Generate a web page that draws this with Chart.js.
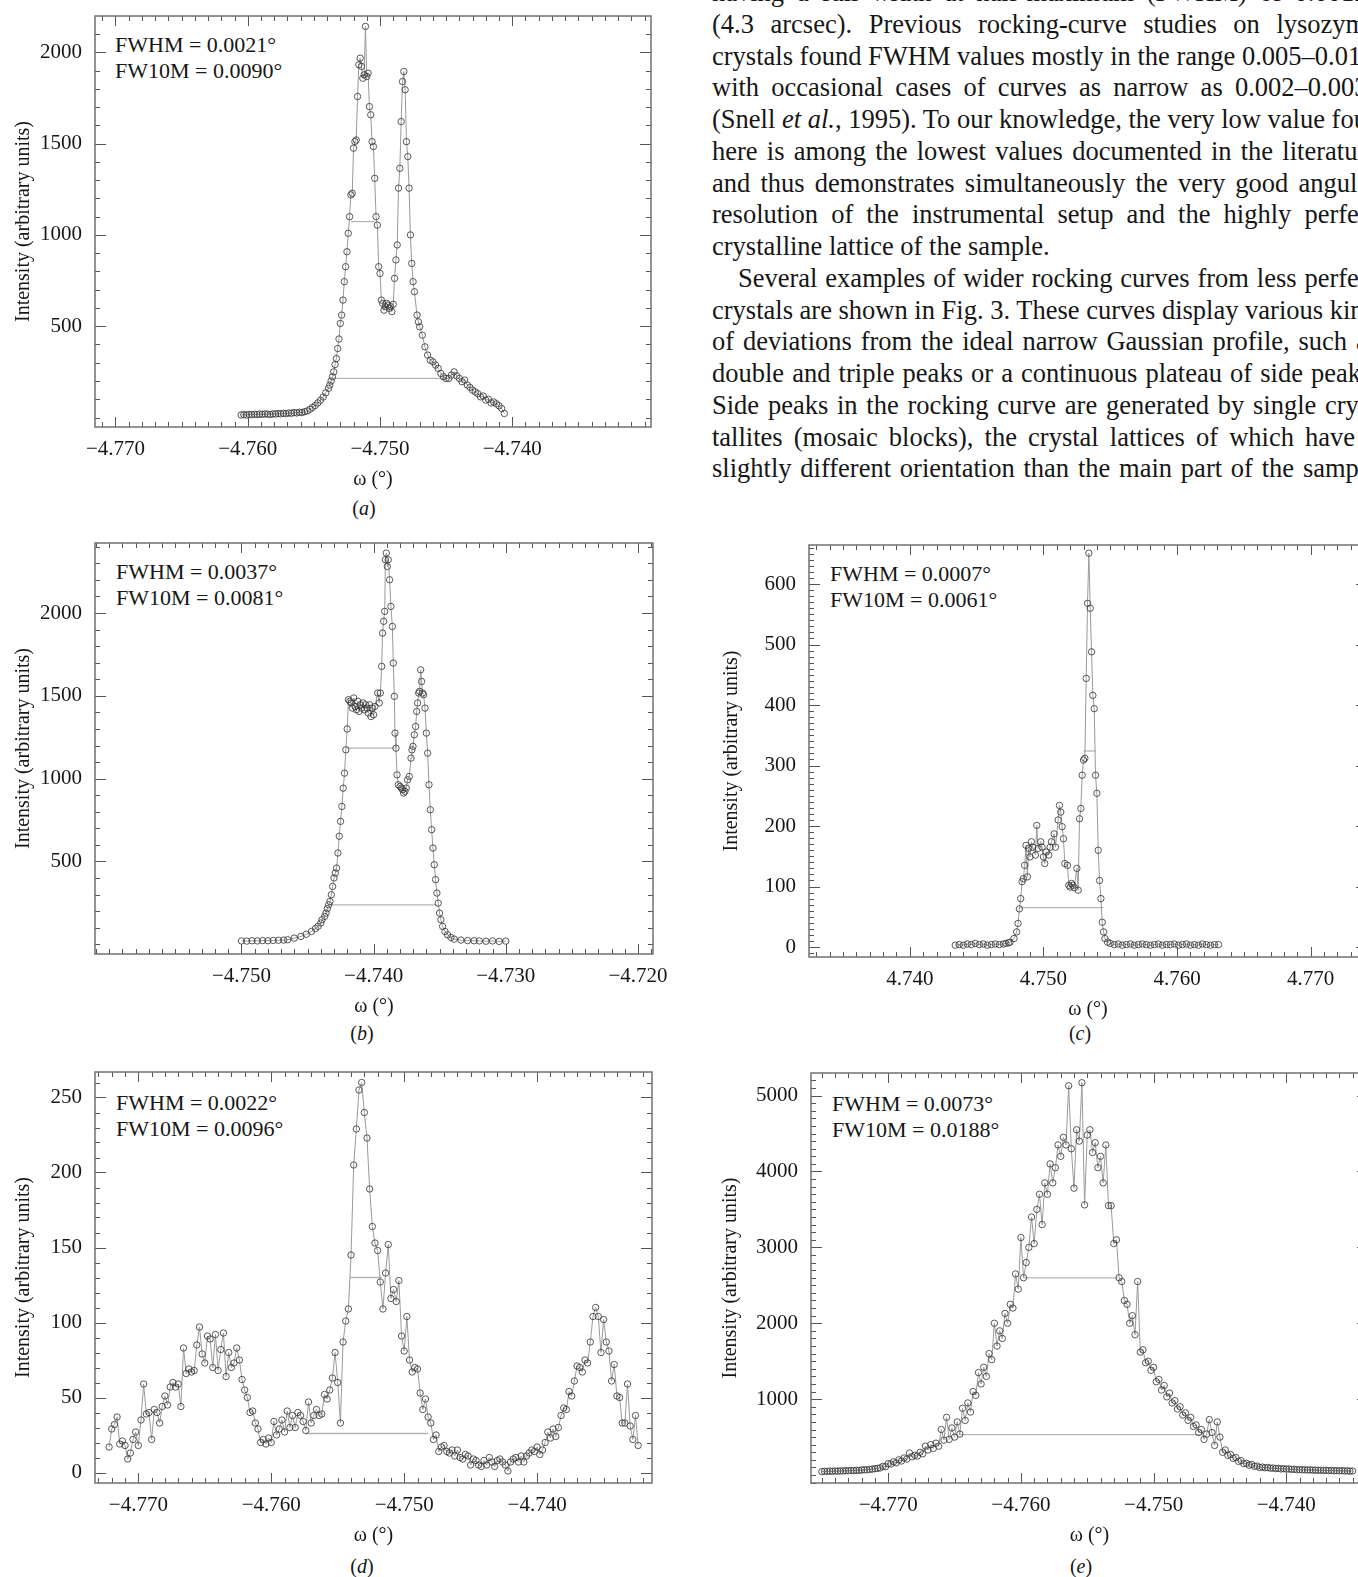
<!DOCTYPE html>
<html lang="en">
<head>
<meta charset="UTF-8">
<title>Rocking curves</title>
<script src="https://cdn.jsdelivr.net/npm/chart.js"></script>
<style>
  html, body { margin: 0; padding: 0; background: #fff; overflow: hidden; }
  body { position: relative; width: 1358px; height: 1577px; font-family: "Liberation Serif", "Times New Roman", serif; color: #161616; }
  canvas { position: absolute; }
  .note { position: absolute; font-size: 22px; line-height: 26px; white-space: nowrap; }
  .cap { position: absolute; font-size: 20px; transform: translate(-50%, -50%); white-space: nowrap; }
  .col { position: absolute; left: 712px; top: -23px; width: 666px; font-size: 26.5px; line-height: 31.75px; }
  .col div { white-space: nowrap; text-align: justify; text-align-last: justify; }
  .col div.end { text-align: left; text-align-last: left; }
  .col div.ind { text-indent: 26px; }
</style>
</head>
<body>

<div class="col">
  <div>having a full width at half-maximum (FWHM) of 0.0012°</div>
  <div>(4.3 arcsec). Previous rocking-curve studies on lysozyme</div>
  <div>crystals found FWHM values mostly in the range 0.005–0.012°</div>
  <div>with occasional cases of curves as narrow as 0.002–0.003°</div>
  <div>(Snell <i>et al.</i>, 1995). To our knowledge, the very low value found</div>
  <div>here is among the lowest values documented in the literature</div>
  <div>and thus demonstrates simultaneously the very good angular</div>
  <div>resolution of the instrumental setup and the highly perfect</div>
  <div class="end">crystalline lattice of the sample.</div>
  <div class="ind">Several examples of wider rocking curves from less perfect</div>
  <div>crystals are shown in Fig. 3. These curves display various kinds</div>
  <div>of deviations from the ideal narrow Gaussian profile, such as</div>
  <div>double and triple peaks or a continuous plateau of side peaks.</div>
  <div>Side peaks in the rocking curve are generated by single crys-</div>
  <div>tallites (mosaic blocks), the crystal lattices of which have a</div>
  <div>slightly different orientation than the main part of the sample</div>
</div>

<div class="note" style="left:115px; top:32px;">FWHM = 0.0021°<br>FW10M = 0.0090°</div>
<div class="note" style="left:116px; top:559px;">FWHM = 0.0037°<br>FW10M = 0.0081°</div>
<div class="note" style="left:830px; top:561px;">FWHM = 0.0007°<br>FW10M = 0.0061°</div>
<div class="note" style="left:116px; top:1090px;">FWHM = 0.0022°<br>FW10M = 0.0096°</div>
<div class="note" style="left:832px; top:1091px;">FWHM = 0.0073°<br>FW10M = 0.0188°</div>

<div class="cap" style="left:364px; top:508px;">(<i>a</i>)</div>
<div class="cap" style="left:362px; top:1033px;">(<i>b</i>)</div>
<div class="cap" style="left:1080px; top:1033px;">(<i>c</i>)</div>
<div class="cap" style="left:362px; top:1566px;">(<i>d</i>)</div>
<div class="cap" style="left:1081px; top:1566px;">(<i>e</i>)</div>

<script>
// ---- panel (a) ----
const omegaA = [
  -4.7605,-4.7603,-4.7601,-4.7599,-4.7597,-4.7595,-4.7593,-4.7591,-4.7589,-4.7587,
  -4.7585,-4.7583,-4.7581,-4.7579,-4.7577,-4.7575,-4.7573,-4.7571,-4.7569,-4.7567,
  -4.7565,-4.7563,-4.7561,-4.7559,-4.7557,-4.7555,-4.7553,-4.7551,-4.7549,-4.7547,
  -4.7545,-4.7543,-4.7541,-4.7539,-4.7538,-4.7537,-4.7536,-4.7535,-4.7534,-4.7533,
  -4.7532,-4.7531,-4.7530,-4.7529,-4.7528,-4.7527,-4.7526,-4.7525,-4.7524,-4.7523,
  -4.7522,-4.7521,-4.7520,-4.7519,-4.7518,-4.7517,-4.7516,-4.7515,-4.7514,-4.7513,
  -4.7512,-4.7511,-4.7510,-4.7509,-4.7508,-4.7507,-4.7506,-4.7505,-4.7504,-4.7503,
  -4.7502,-4.7501,-4.7500,-4.7499,-4.7498,-4.7497,-4.7496,-4.7495,-4.7494,-4.7493,
  -4.7492,-4.7491,-4.7490,-4.7489,-4.7488,-4.7487,-4.7486,-4.7485,-4.7484,-4.7483,
  -4.7482,-4.7481,-4.7480,-4.7479,-4.7478,-4.7477,-4.7476,-4.7475,-4.7474,-4.7472,
  -4.7471,-4.7470,-4.7468,-4.7466,-4.7464,-4.7462,-4.7460,-4.7458,-4.7456,-4.7454,
  -4.7452,-4.7450,-4.7448,-4.7446,-4.7444,-4.7442,-4.7440,-4.7438,-4.7436,-4.7434,
  -4.7432,-4.7430,-4.7428,-4.7426,-4.7424,-4.7422,-4.7420,-4.7418,-4.7416,-4.7414,
  -4.7412,-4.7410,-4.7408,-4.7406
];
const intensityA = [
  14,16,13,17,15,18,16,19,17,20,
  18,16,20,19,22,20,23,21,25,23,
  27,25,29,27,32,36,45,55,66,80,
  95,112,135,160,177,200,223,250,290,323,
  378,430,515,561,643,744,826,908,1009,1100,
  1219,1228,1475,1511,1520,1758,1932,1968,1923,1858,
  1877,2142,1868,1886,1703,1658,1511,1484,1310,1100,
  1054,826,789,643,625,588,607,625,616,598,
  607,580,620,762,863,945,1256,1365,1621,1840,
  1895,1795,1511,1429,1256,1000,844,744,689,561,
  524,497,451,387,342,314,305,287,269,241,
  223,214,214,232,250,228,214,196,205,178,
  165,150,140,130,113,118,95,100,80,85,
  75,64,49,22
];
const levelsA = [[-4.7522, -4.7504, 1073], [-4.7535, -4.7450, 214]];
const xTicksA = [-4.770, -4.760, -4.750, -4.740];
const yTicksA = [500, 1000, 1500, 2000];

// ---- panel (b) ----
const omegaB = [
  -4.7500,-4.7496,-4.7492,-4.7488,-4.7484,-4.7480,-4.7476,-4.7472,-4.7468,-4.7465,
  -4.7460,-4.7455,-4.7451,-4.7447,-4.7444,-4.7442,-4.7440,-4.7439,-4.7437,-4.7436,
  -4.7435,-4.7434,-4.7433,-4.7432,-4.7431,-4.7430,-4.7429,-4.7428,-4.7427,-4.7426,
  -4.7425,-4.7424,-4.7423,-4.7422,-4.7421,-4.7420,-4.7419,-4.7418,-4.7417,-4.7416,
  -4.7415,-4.7414,-4.7413,-4.7412,-4.7411,-4.7410,-4.7409,-4.7408,-4.7407,-4.7406,
  -4.7405,-4.7404,-4.7403,-4.7402,-4.7401,-4.7400,-4.7399,-4.73969,-4.73957,-4.73949,
  -4.73939,-4.73932,-4.73924,-4.73916,-4.73911,-4.73904,-4.73896,-4.73889,-4.73879,-4.73869,
  -4.73858,-4.73851,-4.73843,-4.73838,-4.73831,-4.73823,-4.73813,-4.73800,-4.73790,-4.73780,
  -4.73773,-4.73763,-4.73753,-4.73743,-4.73730,-4.73717,-4.73710,-4.73702,-4.73692,-4.73682,
  -4.73674,-4.73667,-4.73659,-4.73652,-4.73644,-4.73637,-4.73629,-4.73622,-4.73611,-4.73601,
  -4.73591,-4.73581,-4.73571,-4.73561,-4.73551,-4.73541,-4.73531,-4.73521,-4.73511,-4.73501,
  -4.73491,-4.73478,-4.73460,-4.73440,-4.73415,-4.73390,-4.73339,-4.73289,-4.7324,-4.7320,
  -4.7315,-4.7310,-4.7305,-4.7300
];
const intensityB = [
  20,19,21,20,22,21,23,24,25,27,
  37,47,60,77,95,108,128,148,168,188,
  215,238,258,299,349,400,430,460,551,652,
  742,832,942,1033,1174,1300,1477,1467,1457,1426,
  1487,1436,1416,1467,1406,1446,1426,1457,1416,1446,
  1426,1396,1446,1375,1426,1386,1436,1517,1457,1517,
  1678,1879,1950,2010,2322,2362,2281,2322,2201,2040,
  1919,1698,1497,1275,1184,1023,963,953,943,933,
  913,923,943,993,1013,1124,1174,1195,1265,1315,
  1406,1457,1517,1527,1657,1587,1517,1507,1426,1275,
  1154,963,812,692,581,480,390,309,248,188,
  148,108,77,57,41,31,25,22,21,20,
  18,20,17,19
];
const levelsB = [[-4.7420, -4.7384, 1184], [-4.7433, -4.7352, 238]];
const xTicksB = [-4.750, -4.740, -4.730, -4.720];
const yTicksB = [500, 1000, 1500, 2000];

// ---- panel (c) ----
const omegaC = [
  4.7434,4.7437,4.7440,4.7443,4.7446,4.7449,4.7452,4.7455,4.7458,4.7461,
  4.7464,4.7467,4.7470,4.7472,4.7474,4.7475,4.7478,4.7480,4.7481,4.7482,
  4.7483,4.7484,4.7485,4.7486,4.7487,4.7488,4.7489,4.7490,4.7491,4.7492,
  4.7494,4.7495,4.7496,4.7498,4.7499,4.7500,4.7501,4.7502,4.7504,4.7505,
  4.7506,4.7508,4.7509,4.7511,4.7512,4.7513,4.7514,4.7515,4.7516,4.7518,
  4.7519,4.7520,4.7521,4.7522,4.7523,4.7525,4.7526,4.7527,4.7528,4.7529,
  4.7530,4.7531,4.7532,4.7533,4.7534,4.7535,4.7536,4.7537,4.7538,4.7539,
  4.7540,4.7541,4.7542,4.7543,4.7544,4.7545,4.7546,4.7548,4.7550,4.7553,
  4.7556,4.7559,4.7562,4.7565,4.7568,4.7571,4.7574,4.7577,4.7580,4.7583,
  4.7586,4.7589,4.7592,4.7595,4.7598,4.7601,4.7604,4.7607,4.7610,4.7613,
  4.7616,4.7619,4.7622,4.7625,4.7628,4.7631
];
const intensityC = [
  3,4,3,5,4,6,4,5,3,4,
  5,4,5,6,7,8,14,25,39,63,
  80,108,113,135,168,116,163,149,174,165,
  152,201,163,174,165,149,138,157,152,165,
  174,187,165,210,234,223,199,179,138,135,
  102,99,105,102,98,130,94,212,229,284,
  309,312,444,568,651,560,488,416,394,284,
  254,160,110,80,41,25,14,8,6,4,
  5,3,4,5,3,4,5,4,3,4,
  5,3,4,4,5,3,4,5,3,4,
  3,5,4,3,4,4
];
const levelsC = [[4.7530, 4.7539, 324], [4.7482, 4.7545, 65]];
const xTicksC = [4.740, 4.750, 4.760, 4.770];
const yTicksC = [0, 100, 200, 300, 400, 500, 600];

// ---- panel (d) ----
const omegaD = [
  -4.7722,-4.7720,-4.7718,-4.7716,-4.7714,-4.7712,-4.7710,-4.7708,-4.7706,-4.7704,
  -4.7702,-4.7700,-4.7698,-4.7696,-4.7694,-4.7692,-4.7690,-4.7688,-4.7686,-4.7684,
  -4.7682,-4.7680,-4.7678,-4.7676,-4.7674,-4.7672,-4.7670,-4.7668,-4.7666,-4.7664,
  -4.7662,-4.7660,-4.7658,-4.7656,-4.7654,-4.7652,-4.7650,-4.7648,-4.7646,-4.7644,
  -4.7642,-4.7640,-4.7638,-4.7636,-4.7634,-4.7632,-4.7630,-4.7628,-4.7626,-4.7624,
  -4.7622,-4.7620,-4.7618,-4.7616,-4.7614,-4.7612,-4.7610,-4.7608,-4.7606,-4.7604,
  -4.7602,-4.7600,-4.7598,-4.7596,-4.7594,-4.7592,-4.7590,-4.7588,-4.7586,-4.7584,
  -4.7582,-4.7580,-4.7578,-4.7576,-4.7574,-4.7572,-4.7570,-4.7568,-4.7566,-4.7564,
  -4.7562,-4.7560,-4.7558,-4.7556,-4.7554,-4.7552,-4.7550,-4.7548,-4.7546,-4.7544,
  -4.7542,-4.7540,-4.7538,-4.7536,-4.7534,-4.7532,-4.7530,-4.7528,-4.7526,-4.7524,
  -4.7522,-4.7520,-4.7518,-4.7516,-4.7514,-4.7512,-4.7510,-4.7508,-4.7506,-4.7504,
  -4.7502,-4.7500,-4.7498,-4.7496,-4.7494,-4.7492,-4.7490,-4.7488,-4.7486,-4.7484,
  -4.7482,-4.7480,-4.7478,-4.7476,-4.7474,-4.7472,-4.7470,-4.7468,-4.7466,-4.7464,
  -4.7462,-4.7460,-4.7458,-4.7456,-4.7454,-4.7452,-4.7450,-4.7448,-4.7446,-4.7444,
  -4.7442,-4.7440,-4.7438,-4.7436,-4.7434,-4.7432,-4.7430,-4.7428,-4.7426,-4.7424,
  -4.7422,-4.7420,-4.7418,-4.7416,-4.7414,-4.7412,-4.7410,-4.7408,-4.7406,-4.7404,
  -4.7402,-4.7400,-4.7398,-4.7396,-4.7394,-4.7392,-4.7390,-4.7388,-4.7386,-4.7384,
  -4.7382,-4.7380,-4.7378,-4.7376,-4.7374,-4.7372,-4.7370,-4.7368,-4.7366,-4.7364,
  -4.7362,-4.7360,-4.7358,-4.7356,-4.7354,-4.7352,-4.7350,-4.7348,-4.7346,-4.7344,
  -4.7342,-4.7340,-4.7338,-4.7336,-4.7334,-4.7332,-4.7330,-4.7328,-4.7326,-4.7324
];
const intensityD = [
  17,29,32,37,19,21,18,9,13,22,
  27,18,35,59,39,40,22,42,40,33,
  44,51,45,57,60,57,59,44,83,66,
  69,67,68,85,97,79,73,91,89,70,
  92,68,82,93,64,80,70,73,83,75,
  62,55,50,40,41,33,29,20,22,19,
  23,20,34,25,29,35,27,41,30,38,
  30,40,38,34,28,47,33,38,42,38,
  39,52,49,55,63,80,60,33,87,101,
  109,145,205,229,255,260,240,223,189,164,
  153,148,127,109,133,152,116,122,114,128,
  91,81,104,75,67,70,69,53,42,49,
  37,33,22,25,14,17,18,14,13,15,
  11,15,10,9,12,11,5,9,8,5,
  4,8,5,10,7,4,8,9,7,5,
  1,7,9,10,7,11,7,11,13,15,
  14,17,12,15,20,27,23,29,24,30,
  38,43,42,54,51,61,71,70,67,75,
  73,87,104,110,104,80,102,87,81,61,
  72,51,50,33,33,59,31,22,38,18
];
const levelsD = [[-4.7541, -4.7517, 130], [-4.7574, -4.7482, 26]];
const xTicksD = [-4.770, -4.760, -4.750, -4.740];
const yTicksD = [0, 50, 100, 150, 200, 250];

// ---- panel (e) ----
const omegaE = [
  -4.7750,-4.7748,-4.7746,-4.7744,-4.7742,-4.7740,-4.7738,-4.7736,-4.7734,-4.7732,
  -4.7730,-4.7728,-4.7726,-4.7724,-4.7722,-4.7720,-4.7718,-4.7716,-4.7714,-4.7712,
  -4.7710,-4.7708,-4.7706,-4.7704,-4.7702,-4.7700,-4.7698,-4.7696,-4.7694,-4.7692,
  -4.7690,-4.7688,-4.7686,-4.7684,-4.7682,-4.7680,-4.7678,-4.7676,-4.7674,-4.7672,
  -4.7670,-4.7668,-4.7666,-4.7664,-4.7662,-4.7660,-4.7658,-4.7656,-4.7654,-4.7652,
  -4.7650,-4.7648,-4.7646,-4.7644,-4.7642,-4.7640,-4.7638,-4.7636,-4.7634,-4.7632,
  -4.7630,-4.7628,-4.7626,-4.7624,-4.7622,-4.7620,-4.7618,-4.7616,-4.7614,-4.7612,
  -4.7610,-4.7608,-4.7606,-4.7604,-4.7602,-4.7600,-4.7598,-4.7596,-4.7594,-4.7592,
  -4.7590,-4.7588,-4.7586,-4.7584,-4.7582,-4.7580,-4.7578,-4.7576,-4.7574,-4.7572,
  -4.7570,-4.7568,-4.7566,-4.7564,-4.7562,-4.7560,-4.7558,-4.7556,-4.7554,-4.7552,
  -4.7550,-4.7548,-4.7546,-4.7544,-4.7542,-4.7540,-4.7538,-4.7536,-4.7534,-4.7532,
  -4.7530,-4.7528,-4.7526,-4.7524,-4.7522,-4.7520,-4.7518,-4.7516,-4.7514,-4.7512,
  -4.7510,-4.7508,-4.7506,-4.7504,-4.7502,-4.7500,-4.7498,-4.7496,-4.7494,-4.7492,
  -4.7490,-4.7488,-4.7486,-4.7484,-4.7482,-4.7480,-4.7478,-4.7476,-4.7474,-4.7472,
  -4.7470,-4.7468,-4.7466,-4.7464,-4.7462,-4.7460,-4.7458,-4.7456,-4.7454,-4.7452,
  -4.7450,-4.7448,-4.7446,-4.7444,-4.7442,-4.7440,-4.7438,-4.7436,-4.7434,-4.7432,
  -4.7430,-4.7428,-4.7426,-4.7424,-4.7422,-4.7420,-4.7418,-4.7416,-4.7414,-4.7412,
  -4.7410,-4.7408,-4.7406,-4.7404,-4.7402,-4.7400,-4.7398,-4.7396,-4.7394,-4.7392,
  -4.7390,-4.7388,-4.7386,-4.7384,-4.7382,-4.7380,-4.7378,-4.7376,-4.7374,-4.7372,
  -4.7370,-4.7368,-4.7366,-4.7364,-4.7362,-4.7360,-4.7358,-4.7356,-4.7354,-4.7352,
  -4.7350
];
const intensityE = [
  45,50,48,52,49,54,51,55,53,58,
  56,60,58,63,61,66,70,68,74,78,
  84,88,94,115,110,150,145,175,160,200,
  185,225,210,290,240,260,250,300,280,380,
  330,400,350,420,380,600,460,760,470,620,
  500,700,540,880,720,950,830,1100,1050,1350,
  1200,1420,1300,1600,1520,2000,1700,1900,1800,2130,
  2000,2250,2200,2650,2450,3130,2600,2800,3000,3400,
  3050,3500,3700,3300,3850,3700,4100,3850,4050,4350,
  4200,4450,4350,5130,4300,3780,4550,4400,5170,3560,
  4480,4550,4250,4380,4050,4200,3850,4350,3550,3550,
  3050,3100,2600,2550,2300,2250,2000,2100,1850,2550,
  1620,1650,1480,1500,1380,1420,1230,1260,1120,1180,
  1030,1080,950,980,870,900,790,820,720,760,
  640,660,560,600,470,540,730,560,390,700,
  500,300,330,260,270,220,230,180,190,150,
  155,130,140,115,118,100,105,95,100,90,
  92,85,88,80,84,78,80,74,76,70,
  73,68,70,66,68,64,65,62,63,60,
  62,58,60,56,58,55,57,54,55,52,
  53
];
const levelsE = [[-4.7598, -4.7527, 2597], [-4.7647, -4.7464, 533]];
const xTicksE = [-4.770, -4.760, -4.750, -4.740];
const yTicksE = [1000, 2000, 3000, 4000, 5000];

// plot boxes on the page and axis windows
const panels = [
  { left: 95,  top: 16,   w: 556, h: 411, x: [-4.77155, -4.72951], y: [-52, 2199],   omega: omegaA, val: intensityA, levels: levelsA, xt: xTicksA, yt: yTicksA, xMinor: 0.001, yMinor: 100, tpad: 12 },
  { left: 95,  top: 543,  w: 558, h: 411, x: [-4.76108, -4.71886], y: [-59, 2423],   omega: omegaB, val: intensityB, levels: levelsB, xt: xTicksB, yt: yTicksB, xMinor: 0.001, yMinor: 100, tpad: 12 },
  { left: 809, top: 545,  w: 558, h: 412, x: [4.73246, 4.77421],   y: [-16.5, 664.5], omega: omegaC, val: intensityC, levels: levelsC, xt: xTicksC, yt: yTicksC, xMinor: 0.001, yMinor: 10,  tpad: 6 },
  { left: 95,  top: 1072, w: 557, h: 411, x: [-4.77326, -4.73136], y: [-7, 267],     omega: omegaD, val: intensityD, levels: levelsD, xt: xTicksD, yt: yTicksD, xMinor: 0.001, yMinor: 10,  tpad: 12 },
  { left: 811, top: 1073, w: 557, h: 410, x: [-4.77582, -4.73384], y: [-105, 5298],  omega: omegaE, val: intensityE, levels: levelsE, xt: xTicksE, yt: yTicksE, xMinor: 0.001, yMinor: 100, tpad: 3 }
];

const Y_W = 95, PAD_T = 8, PAD_R = 40, X_H = 65;

Chart.defaults.font.family = '"Liberation Serif", "Times New Roman", serif';
Chart.defaults.color = '#161616';

function fmtX(v) {
  return (v < 0 ? '\u2212' : '') + Math.abs(v).toFixed(3);
}

// box with inward ticks on all four sides, placed with the chart's own scales
const framePlugin = {
  id: 'frame',
  afterDraw(chart) {
    const o = chart.options.plugins.frame;
    const { ctx, chartArea: a } = chart;
    const xs = chart.scales.x, ys = chart.scales.y;
    const near = (v, list, step) => list.some(t => Math.abs(t - v) < step / 10);
    ctx.save();
    ctx.strokeStyle = '#555';
    ctx.lineWidth = 1;
    ctx.beginPath();
    for (let k = Math.ceil(xs.min / o.xMinor); k * o.xMinor <= xs.max; k++) {
      const v = k * o.xMinor;
      const px = Math.round(xs.getPixelForValue(v)) + 0.5;
      const len = near(v, o.xMajor, o.xMinor) ? 10 : 5;
      ctx.moveTo(px, a.bottom); ctx.lineTo(px, a.bottom - len);
      ctx.moveTo(px, a.top); ctx.lineTo(px, a.top + len);
    }
    for (let k = Math.ceil(ys.min / o.yMinor); k * o.yMinor <= ys.max; k++) {
      const v = k * o.yMinor;
      const py = Math.round(ys.getPixelForValue(v)) + 0.5;
      const len = near(v, o.yMajor, o.yMinor) ? 11 : 5;
      ctx.moveTo(a.left, py); ctx.lineTo(a.left + len, py);
      ctx.moveTo(a.right, py); ctx.lineTo(a.right - len, py);
    }
    ctx.stroke();
    ctx.strokeStyle = '#707070';
    ctx.lineWidth = 1.5;
    ctx.strokeRect(a.left, a.top, a.right - a.left, a.bottom - a.top);
    ctx.restore();
  }
};

panels.forEach(p => {
  const cv = document.createElement('canvas');
  cv.width = Y_W + p.w + PAD_R;
  cv.height = PAD_T + p.h + X_H;
  cv.style.left = (p.left - Y_W) + 'px';
  cv.style.top = (p.top - PAD_T) + 'px';
  document.body.appendChild(cv);

  const points = p.omega.map((x, i) => ({ x: x, y: p.val[i] }));
  const levelSets = p.levels.map(l => ({
    data: [{ x: l[0], y: l[2] }, { x: l[1], y: l[2] }],
    showLine: true,
    borderColor: '#b4b4b4',
    borderWidth: 1.3,
    pointRadius: 0
  }));

  new Chart(cv, {
    type: 'scatter',
    data: {
      datasets: [{
        data: points,
        showLine: true,
        borderColor: '#9a9a9a',
        borderWidth: 1,
        pointRadius: 3.2,
        pointBorderWidth: 1,
        pointBorderColor: 'rgba(60,60,60,0.85)',
        pointBackgroundColor: 'rgba(255,255,255,0)'
      }].concat(levelSets)
    },
    options: {
      responsive: false,
      animation: false,
      layout: { padding: { top: PAD_T, right: PAD_R, left: 0, bottom: 0 } },
      plugins: {
        legend: { display: false },
        tooltip: { enabled: false },
        frame: { xMinor: p.xMinor, yMinor: p.yMinor, xMajor: p.xt, yMajor: p.yt }
      },
      scales: {
        x: {
          type: 'linear',
          min: p.x[0],
          max: p.x[1],
          grid: { display: false, drawTicks: false },
          border: { display: false },
          afterBuildTicks: s => { s.ticks = p.xt.map(v => ({ value: v })); },
          afterFit: s => { s.height = X_H; s.paddingLeft = 0; s.paddingRight = 0; },
          ticks: { autoSkip: false, maxRotation: 0, minRotation: 0, padding: 10, font: { size: 21 }, callback: v => fmtX(v) },
          title: { display: true, text: 'ω (°)', font: { size: 20 }, padding: { top: 0, bottom: 0 } }
        },
        y: {
          type: 'linear',
          min: p.y[0],
          max: p.y[1],
          grid: { display: false, drawTicks: false },
          border: { display: false },
          afterBuildTicks: s => { s.ticks = p.yt.map(v => ({ value: v })); },
          afterFit: s => { s.width = Y_W; s.paddingTop = 0; s.paddingBottom = 0; },
          ticks: { autoSkip: false, padding: 13, font: { size: 21 }, callback: v => String(v) },
          title: { display: true, text: 'Intensity (arbitrary units)', font: { size: 20 }, padding: { top: p.tpad, bottom: 0 } }
        }
      }
    },
    plugins: [framePlugin]
  });
});
</script>
</body>
</html>
